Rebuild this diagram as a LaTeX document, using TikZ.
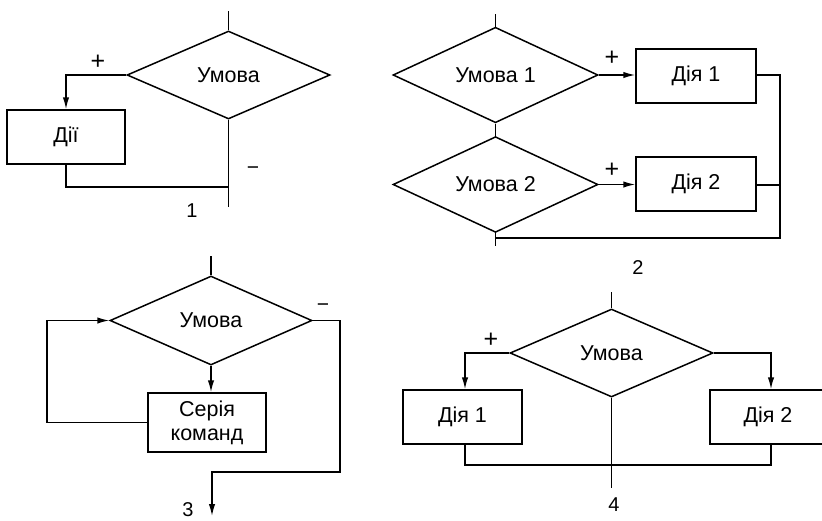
\documentclass[tikz,border=0pt]{standalone}
\usepackage{fontspec}
\setmainfont{Liberation Sans}
\usetikzlibrary{shapes.geometric,arrows.meta}
\begin{document}
\begin{tikzpicture}[x=1pt,y=-1pt,
  line width=1.5pt,
  font=\fontsize{21.5}{24}\selectfont,
  cond/.style={draw,diamond,inner sep=0pt,minimum width=#1,minimum height=88pt},
  act/.style={draw,rectangle,inner sep=0pt,minimum width=118pt,minimum height=54pt,align=center},
  flow/.style={-{Latex[length=12pt,width=6.5pt]}},
  sign/.style={inner sep=0pt,font=\fontsize{21}{21}\selectfont},
  yes/.style={inner sep=0pt,font=\fontsize{25}{25}\selectfont},
  caption/.style={inner sep=0pt,font=\fontsize{20}{20}\selectfont}]
\useasboundingbox (0,0) rectangle (822,520);
\clip (0,0) rectangle (822,520);

% ---- 1: incomplete branching
\node[cond=203pt] (d1) at (228.5,75) {Умова};
\node[act] (b1) at (66,137) {Дії};
\coordinate (t1) at (228.5,11);
\coordinate (j1) at (228.5,187);
\coordinate (e1) at (228.5,207);
\draw (t1) -- (d1.north);
\draw[flow] (d1.west) -| (b1.north);
\draw (b1.south) |- (j1);
\draw (d1.south) -- (e1);
\node[yes] (p1) at (98,62) {+};
\node[sign] (m1) at (253,171) {−};
\node[caption] (c1) at (192,211) {1};

% ---- 2: chained conditions
\node[cond=205pt] (d2a) at (495.5,75) {Умова 1};
\node[cond=205pt,minimum height=89pt] (d2b) at (495.5,184.5) {Умова 2};
\node[act,minimum width=120pt] (b2a) at (696,76) {Дія 1};
\node[act,minimum width=120pt] (b2b) at (696,184) {Дія 2};
\coordinate (t2) at (495.5,14);
\coordinate (r2a) at (780,75);
\coordinate (r2b) at (780,185);
\coordinate (r2c) at (780,238);
\coordinate (j2) at (495.5,238);
\coordinate (e2) at (495.5,246);
\draw (t2) -- (d2a.north);
\draw (d2a.south) -- (d2b.north);
\draw[flow] (d2a.east) -- (d2a.east -| b2a.west);
\draw[flow] (d2b.east) -- (d2b.east -| b2b.west);
\draw (b2a.east |- r2a) -- (r2a) -- (r2c) -- (j2);
\draw (b2b.east |- r2b) -- (r2b);
\draw (d2b.south) -- (e2);
\node[yes] (p2a) at (612,58) {+};
\node[yes] (p2b) at (612,170) {+};
\node[caption] (c2) at (638,268) {2};

% ---- 3: loop
\node[cond=202pt,minimum height=89pt] (d3) at (211,320.5) {Умова};
\node[act,minimum height=59pt] (b3) at (207,422.5) {Серія\\команд};
\coordinate (t3) at (211,256);
\coordinate (r3a) at (340,320.5);
\coordinate (r3b) at (340,472);
\coordinate (r3c) at (212,472);
\coordinate (e3) at (212,516);
\coordinate (l3) at (47,422.5);
\draw (t3) -- (d3.north);
\draw[flow] (d3.south) -- (d3.south |- b3.north);
\draw[flow] (d3.east) -- (r3a) -- (r3b) -- (r3c) -- (e3);
\draw[flow] (b3.west) -- (l3) |- (d3.west);
\node[sign] (m3) at (323,308) {−};
\node[caption] (c3) at (188,510) {3};

% ---- 4: full branching
\node[cond=203pt] (d4) at (611.5,353) {Умова};
\node[act,minimum width=119pt] (b4a) at (462.5,417) {Дія 1};
\node[act,minimum width=116pt] (b4b) at (768,417) {Дія 2};
\coordinate (t4) at (611.5,292);
\coordinate (l4) at (465,353);
\coordinate (r4) at (771,353);
\coordinate (j4a) at (465,465);
\coordinate (j4b) at (771,465);
\coordinate (e4) at (611.5,488);
\draw (t4) -- (d4.north);
\draw[flow] (d4.west) -- (l4) -- (l4 |- b4a.north);
\draw[flow] (d4.east) -- (r4) -- (r4 |- b4b.north);
\draw (l4 |- b4a.south) -- (j4a) -- (j4b) -- (r4 |- b4b.south);
\draw (d4.south) -- (e4);
\node[yes] (p4) at (491,340) {+};
\node[caption] (c4) at (614,505) {4};
\end{tikzpicture}
\end{document}
